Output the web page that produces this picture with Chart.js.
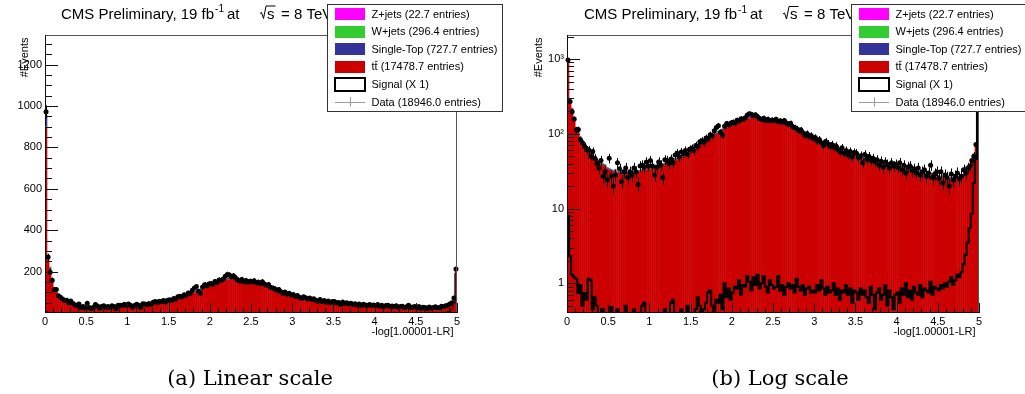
<!DOCTYPE html>
<html>
<head>
<meta charset="utf-8">
<script src="https://cdn.jsdelivr.net/npm/chart.js@4.4.1/dist/chart.umd.min.js"></script>
<style>
  html, body { margin: 0; padding: 0; background: #fff; }
  #wrap { position: relative; width: 1025px; height: 394px; overflow: hidden; background: #fff; }
  canvas { position: absolute; top: 0; }
  .cap { position: absolute; top: 364px; line-height: 28px; font-family: "DejaVu Serif", "Liberation Serif", serif;
         font-size: 21px; color: #000; white-space: nowrap; transform: translateX(-50%); }
</style>
</head>
<body>
<div id="wrap">
  <canvas id="linPanel" width="512" height="394" style="left:0"></canvas>
  <canvas id="logPanel" width="513" height="394" style="left:512px"></canvas>
  <div class="cap" style="left:250px">(a) Linear scale</div>
  <div class="cap" style="left:780px">(b) Log scale</div>
</div>
<script>
// Histogram binning: 200 bins on [0, 5]
const nBins = 200;
const xLow = 0;
const xHigh = 5;

// Stacked backgrounds, per bin
const ttbar = [
  900,255,208,155,118,102,87,78,70,64,
  59,55,52,47,45,42,40,38,37,34,
  33,32,31,32,30,30,29,30,29,29,
  29,30,30,31,31,31,32,33,33,34,
  34,35,35,36,37,37,38,39,40,41,
  42,43,45,45,47,49,50,52,54,57,
  58,61,64,66,70,73,76,80,83,87,
  91,95,100,104,108,112,117,120,124,128,
  131,136,139,143,148,151,154,159,161,163,
  165,163,161,160,156,155,152,150,149,147,
  145,144,141,139,137,134,132,129,125,121,
  117,114,111,106,102,98,95,92,88,85,
  82,80,77,75,73,71,69,67,66,64,
  62,61,60,58,57,55,55,53,52,51,
  50,49,48,47,46,45,44,44,43,42,
  41,41,40,39,39,38,38,37,37,36,
  36,35,35,34,34,33,33,32,32,31,
  31,30,30,29,29,28,29,28,27,27,
  27,26,26,26,25,25,25,25,25,25,
  26,26,27,29,32,36,42,52,70,203
];
const singleTop = [
  55,14,11,7,5,4.3,3.6,3.2,2.9,2.6,
  2.5,2.3,2.1,2.0,1.8,1.7,1.7,1.6,1.5,1.4,
  1.4,1.3,1.3,1.3,1.2,1.2,1.2,1.2,1.2,1.2,
  1.2,1.2,1.2,1.2,1.3,1.3,1.3,1.3,1.4,1.4,
  1.4,1.4,1.5,1.5,1.5,1.5,1.6,1.6,1.7,1.7,
  1.8,1.8,1.8,1.9,2.0,2.0,2.1,2.2,2.3,2.3,
  2.4,2.5,2.6,2.8,2.9,3.0,3.2,3.3,3.5,3.6,
  3.8,4.0,4.1,4.3,4.5,4.7,4.8,5.0,5.2,5.3,
  5.5,5.6,5.8,6.0,6.1,6.3,6.4,6.6,6.7,6.8,
  6.8,6.8,6.7,6.6,6.5,6.4,6.3,6.3,6.2,6.1,
  6.0,6.0,5.9,5.8,5.7,5.6,5.5,5.4,5.2,5.0,
  4.9,4.8,4.6,4.4,4.3,4.1,4.0,3.8,3.7,3.5,
  3.4,3.3,3.2,3.1,3.0,3.0,2.9,2.8,2.7,2.7,
  2.6,2.5,2.5,2.4,2.4,2.3,2.3,2.2,2.2,2.1,
  2.1,2.0,2.0,2.0,1.9,1.9,1.8,1.8,1.8,1.8,
  1.7,1.7,1.7,1.6,1.6,1.6,1.6,1.5,1.5,1.5,
  1.5,1.5,1.5,1.4,1.4,1.4,1.4,1.3,1.3,1.3,
  1.3,1.3,1.3,1.2,1.2,1.2,1.2,1.2,1.1,1.1,
  1.1,1.1,1.1,1.1,1.0,1.0,1.0,1.0,1.0,1.0,
  1.1,1.1,1.1,1.2,1.3,1.5,1.8,2.2,2.9,8.5
];
const wJets = [
  12,6,5,3,2,1.7,1.5,1.3,1.2,1.1,
  1.0,0.9,0.9,0.8,0.7,0.7,0.7,0.6,0.6,0.6,
  0.5,0.5,0.5,0.5,0.5,0.5,0.5,0.5,0.5,0.5,
  0.5,0.5,0.5,0.5,0.5,0.5,0.5,0.5,0.5,0.5,
  0.6,0.6,0.6,0.6,0.6,0.6,0.7,0.7,0.7,0.7,
  0.7,0.7,0.7,0.8,0.8,0.8,0.9,0.9,0.9,0.9,
  1.0,1.0,1.1,1.1,1.2,1.2,1.3,1.3,1.4,1.5,
  1.5,1.6,1.7,1.7,1.8,1.9,1.9,2.0,2.1,2.1,
  2.2,2.3,2.3,2.4,2.5,2.5,2.6,2.6,2.7,2.7,
  2.7,2.7,2.7,2.7,2.6,2.6,2.5,2.5,2.5,2.5,
  2.4,2.4,2.4,2.3,2.3,2.2,2.2,2.2,2.1,2.0,
  2.0,1.9,1.8,1.8,1.7,1.6,1.6,1.5,1.5,1.4,
  1.4,1.3,1.3,1.3,1.2,1.2,1.2,1.1,1.1,1.1,
  1.0,1.0,1.0,1.0,1.0,0.9,0.9,0.9,0.9,0.9,
  0.8,0.8,0.8,0.8,0.8,0.8,0.7,0.7,0.7,0.7,
  0.7,0.7,0.7,0.7,0.6,0.6,0.6,0.6,0.6,0.6,
  0.6,0.6,0.6,0.6,0.6,0.5,0.5,0.5,0.5,0.5,
  0.5,0.5,0.5,0.5,0.5,0.5,0.5,0.5,0.5,0.5,
  0.4,0.4,0.4,0.4,0.4,0.4,0.4,0.4,0.4,0.4,
  0.4,0.4,0.5,0.5,0.5,0.6,0.7,0.9,1.2,3.4
];
const zJets = [
  1.2,0.5,0.4,0.3,0.2,0.2,0.2,0.1,0.1,0.1,
  0.1,0.1,0.1,0.1,0.1,0.1,0.1,0.1,0.1,0.1,
  0.1,0.1,0.1,0.1,0.1,0.1,0.1,0.1,0.1,0.1,
  0.1,0.1,0.1,0.1,0.1,0.1,0.1,0.1,0.1,0.1,
  0.1,0.1,0.1,0.1,0.1,0.1,0.1,0.1,0.1,0.1,
  0.1,0.1,0.1,0.1,0.1,0.1,0.1,0.1,0.1,0.1,
  0.1,0.1,0.1,0.1,0.1,0.1,0.1,0.1,0.1,0.1,
  0.1,0.1,0.1,0.2,0.1,0.1,0.2,0.1,0.2,0.2,
  0.2,0.2,0.2,0.2,0.2,0.2,0.2,0.2,0.2,0.2,
  0.2,0.2,0.2,0.2,0.2,0.2,0.2,0.2,0.2,0.2,
  0.2,0.2,0.2,0.2,0.2,0.2,0.2,0.1,0.2,0.1,
  0.1,0.1,0.1,0.1,0.1,0.1,0.1,0.1,0.1,0.1,
  0.1,0.1,0.1,0.1,0.1,0.1,0.1,0.1,0.1,0.1,
  0.1,0.1,0.1,0.1,0.1,0.1,0.1,0.1,0.1,0.1,
  0.1,0.1,0.1,0.1,0.1,0.1,0.1,0.1,0.1,0.1,
  0.1,0.1,0.1,0.1,0.1,0.1,0.1,0.1,0.1,0.1,
  0.1,0.1,0.1,0.1,0.1,0.1,0.1,0.1,0.1,0.1,
  0.1,0.1,0.1,0.1,0.1,0.1,0.1,0.1,0.1,0.1,
  0.1,0.1,0.1,0.1,0.1,0.1,0.1,0.1,0.1,0.1,
  0.1,0.1,0.1,0.1,0.1,0.1,0.1,0.1,0.1,0.3
];
// Signal template (scale x 1)
const signal = [
  8.0,2.3,1.3,1.2,1.15,0.74,0.95,0.5,0.74,0.6,
  1.15,1.1,0.45,0.65,0.5,0.3,0.2,0.45,0.3,0.25,
  0.3,0.48,0.2,0.3,0.45,0.25,0.2,0.3,0.5,0.2,
  0.3,0.3,0.45,0.2,0.25,0.3,0.5,0.55,0.3,0.2,
  0.3,0.2,0.4,0.25,0.3,0.2,0.3,0.45,0.25,0.3,
  0.55,0.6,0.3,0.2,0.3,0.45,0.3,0.25,0.5,0.3,
  0.4,0.3,0.45,0.65,0.5,0.3,0.45,0.55,0.75,0.8,
  0.5,0.35,0.6,0.55,0.7,0.45,1.0,0.65,0.85,0.6,
  0.75,0.9,0.85,1.1,0.7,0.95,0.9,1.25,1.05,0.8,
  1.2,0.95,1.3,0.85,1.0,1.25,0.9,0.75,1.1,0.95,
  0.85,0.9,1.25,0.8,0.95,0.7,0.9,1.0,0.85,0.95,
  0.75,1.15,0.9,0.8,0.95,0.7,0.85,0.9,0.75,0.8,
  0.75,0.95,0.8,1.1,0.85,0.7,0.9,0.75,0.8,1.0,
  0.7,0.85,0.6,0.8,0.75,0.95,0.7,0.85,0.55,0.8,
  0.75,0.6,0.85,0.7,0.8,0.65,0.55,0.9,0.7,0.45,
  0.75,0.85,0.6,0.7,0.95,0.5,0.8,0.65,0.45,0.7,
  0.75,0.55,0.85,0.7,1.0,0.65,0.8,0.6,0.9,0.75,
  0.7,0.95,0.65,0.85,0.8,0.75,1.05,0.7,0.9,0.85,
  0.8,0.95,0.85,1.0,0.9,1.05,1.2,0.95,1.1,1.3,
  1.2,1.4,1.8,2.4,3.5,5.5,8.5,22,46,190
];
// Observed events, per bin
const dataCounts = [
  972,270,197,158,112,114,83,76,68,61,
  61,50,58,47,40,35,44,27,31,24,
  47,27,20,28,41,34,23,31,35,26,
  31,28,35,31,21,37,38,36,42,37,
  44,37,28,36,42,38,26,45,44,40,
  46,41,52,55,49,57,54,60,53,62,
  64,60,70,68,78,81,77,88,86,97,
  94,110,121,128,105,96,126,137,132,140,
  143,138,152,148,159,157,164,178,186,183,
  175,180,169,160,155,162,151,157,149,153,
  151,156,146,149,143,151,140,134,138,124,
  121,117,110,113,103,96,101,92,95,87,
  89,80,84,76,70,79,74,68,72,66,
  69,62,57,65,55,60,52,58,49,56,
  55,48,51,41,53,46,50,44,47,42,
  45,38,43,36,42,39,35,41,37,39,
  36,41,33,38,30,36,37,32,34,30,
  35,28,31,33,27,30,38,26,29,31,
  25,31,22,28,26,20,29,24,27,30,
  25,27,33,30,35,37,44,50,72,213
];

// Axis tick labels
const xTickLabels = ['0','0.5','1','1.5','2','2.5','3','3.5','4','4.5','5'];
const linYMajor = [200, 400, 600, 800, 1000, 1200];
const linYLabels = ['200','400','600','800','1000','1200'];
const logYMajor = [1, 10, 100, 1000];
const logYLabels = ['1', '10', '10\u00b2', '10\u00b3'];

// Legend and title texts
const legendTexts = ['Z+jets (22.7 entries)', 'W+jets (296.4 entries)', 'Single-Top (727.7 entries)',
                     ' (17478.7 entries)', 'Signal (X 1)', 'Data (18946.0 entries)'];
const titleText = ['CMS Preliminary, 19 fb', '-1', 'at', 's', '= 8 TeV'];
const xTitle = '-log[1.00001-LR]';
const yTitle = '#Events';

const colors = { z: '#ff00ff', w: '#33cc33', st: '#333399', tt: '#cc0000' };
const FONT = '"Liberation Sans", Arial, Helvetica, sans-serif';

const binLabels = [];
for (let i = 0; i < nBins; i++) binLabels.push(((i + 0.5) * (xHigh - xLow) / nBins + xLow).toFixed(4));

// tick positions along x: every 0.1, labelled every 0.5
const xTickVals = [];
for (let k = 0; k <= 50; k++) xTickVals.push(k / 10);

function linYTickVals() {
  const t = [];
  for (let v = 50; v <= 1300; v += 50) t.push(v);
  return t;
}
function logYTickVals() {
  const t = [0.4, 0.5, 0.6, 0.7, 0.8, 0.9];
  [1, 10, 100, 1000].forEach(d => { for (let m = 1; m <= 9; m++) if (m * d <= 2100) t.push(m * d); });
  return t;
}

function drawTitle(ctx, x0, y) {
  ctx.save();
  ctx.fillStyle = '#000';
  ctx.strokeStyle = '#000';
  ctx.textAlign = 'left';
  ctx.textBaseline = 'alphabetic';
  ctx.font = '15px ' + FONT;
  ctx.fillText(titleText[0], x0, y);
  const w0 = ctx.measureText(titleText[0]).width;
  ctx.font = '10px ' + FONT;
  ctx.fillText(titleText[1], x0 + w0 + 1, y - 6.5);
  ctx.font = '15px ' + FONT;
  ctx.fillText(titleText[2], x0 + 166, y);
  // square-root sign with bar over the argument
  const rx = x0 + 199;
  const sw = ctx.measureText(titleText[3]).width;
  ctx.lineWidth = 1;
  ctx.beginPath();
  ctx.moveTo(rx, y - 5);
  ctx.lineTo(rx + 1.5, y - 6);
  ctx.lineTo(rx + 3.5, y);
  ctx.lineTo(rx + 6, y - 12.5);
  ctx.lineTo(rx + 8 + sw, y - 12.5);
  ctx.stroke();
  ctx.fillText(titleText[3], rx + 7, y);
  ctx.fillText(titleText[4], x0 + 220, y);
  ctx.restore();
}

function drawLegend(ctx, bx, by) {
  const bw = 175, bh = 107;
  ctx.save();
  ctx.fillStyle = '#fff';
  ctx.fillRect(bx, by, bw, bh);
  ctx.strokeStyle = '#333';
  ctx.lineWidth = 1;
  ctx.strokeRect(bx + 0.5, by + 0.5, bw, bh);
  const sx = bx + 8, swW = 30, tx = bx + 44.5;
  const rowY = k => by + 10 + 17.6 * k;
  const fills = [colors.z, colors.w, colors.st, colors.tt];
  ctx.font = '11px ' + FONT;
  ctx.textBaseline = 'middle';
  ctx.textAlign = 'left';
  fills.forEach((c, k) => {
    ctx.fillStyle = c;
    ctx.fillRect(sx, Math.round(rowY(k) - 6), swW, 12);
  });
  ctx.fillStyle = '#000';
  [0, 1, 2].forEach(k => ctx.fillText(legendTexts[k], tx, rowY(k) + 0.5));
  // t tbar label
  const tw = ctx.measureText('t').width;
  ctx.fillText('tt', tx, rowY(3) + 0.5);
  ctx.beginPath();
  ctx.moveTo(tx + tw + 0.3, rowY(3) - 5.5);
  ctx.lineTo(tx + 2 * tw, rowY(3) - 5.5);
  ctx.stroke();
  ctx.fillText(legendTexts[3], tx + 2 * tw, rowY(3) + 0.5);
  // signal: open box
  ctx.strokeStyle = '#000';
  ctx.lineWidth = 2;
  ctx.strokeRect(sx, Math.round(rowY(4) - 6), swW, 13);
  ctx.fillText(legendTexts[4], tx, rowY(4) + 0.5);
  // data: line with error bar
  ctx.strokeStyle = '#9a9a9a';
  ctx.lineWidth = 1;
  ctx.beginPath();
  ctx.moveTo(sx, Math.round(rowY(5)) + 0.5);
  ctx.lineTo(sx + swW, Math.round(rowY(5)) + 0.5);
  ctx.moveTo(sx + swW / 2 + 0.5, rowY(5) - 4.5);
  ctx.lineTo(sx + swW / 2 + 0.5, rowY(5) + 4.5);
  ctx.stroke();
  ctx.fillText(legendTexts[5], tx, rowY(5) + 0.5);
  ctx.restore();
}

function decorPlugin(p) {
  return {
    id: 'rootDecor',
    afterDatasetsDraw(chart) {
      const { ctx, chartArea: a, scales } = chart;
      const ys = scales.y, xt = scales.xt;
      // statistical error bars on data
      const meta = chart.getDatasetMeta(0);
      ctx.save();
      ctx.beginPath();
      ctx.rect(a.left, a.top, a.right - a.left, a.bottom - a.top);
      ctx.clip();
      ctx.strokeStyle = '#000';
      ctx.lineWidth = 1;
      ctx.beginPath();
      dataCounts.forEach((n, i) => {
        const e = Math.sqrt(n);
        const lo = Math.max(n - e, ys.min);
        const px = Math.round(meta.data[i].x) + 0.5;
        ctx.moveTo(px, ys.getPixelForValue(n + e));
        ctx.lineTo(px, ys.getPixelForValue(lo));
      });
      ctx.stroke();
      ctx.restore();

      // frame
      ctx.save();
      ctx.lineWidth = 1;
      ctx.strokeStyle = '#555';
      ctx.beginPath();
      ctx.moveTo(a.left, a.top + 0.5);
      ctx.lineTo(a.right - 0.5, a.top + 0.5);
      ctx.lineTo(a.right - 0.5, a.bottom);
      ctx.stroke();
      ctx.strokeStyle = '#111';
      ctx.beginPath();
      ctx.moveTo(a.left + 0.5, a.top);
      ctx.lineTo(a.left + 0.5, a.bottom - 0.5);
      ctx.lineTo(a.right, a.bottom - 0.5);
      ctx.stroke();

      // inward tick marks
      ctx.beginPath();
      ys.ticks.forEach(t => {
        const major = p.isMajorY(t.value);
        const py = Math.round(ys.getPixelForValue(t.value)) + 0.5;
        if (py < a.top || py > a.bottom) return;
        ctx.moveTo(a.left, py);
        ctx.lineTo(a.left + (major ? 13 : 7), py);
      });
      xt.ticks.forEach(t => {
        const major = Math.abs(t.value * 2 - Math.round(t.value * 2)) < 1e-6;
        const px = Math.round(xt.getPixelForValue(t.value)) + 0.5;
        ctx.moveTo(px, a.bottom);
        ctx.lineTo(px, a.bottom - (major ? 10 : 5));
      });
      ctx.stroke();
      ctx.restore();
    },
    afterDraw(chart) {
      const { ctx, chartArea: a } = chart;
      drawTitle(ctx, p.titleX, p.titleY);
      ctx.save();
      ctx.fillStyle = '#000';
      ctx.font = '11px ' + FONT;
      ctx.textAlign = 'right';
      ctx.textBaseline = 'alphabetic';
      ctx.fillText(xTitle, a.right - 3.5, 335);
      ctx.translate(p.yTitleX, a.top + 2.5);
      ctx.rotate(-Math.PI / 2);
      ctx.fillText(yTitle, 0, 0);
      ctx.restore();
      drawLegend(ctx, p.legendX, 4);
    }
  };
}

function makePanel(id, p) {
  const tickFont = { family: FONT, size: 11 };
  const datasets = [
    { type: 'line', label: 'Data', data: dataCounts, stack: 'data', showLine: false,
      pointRadius: 2.5, pointHoverRadius: 2.5, pointBackgroundColor: '#000', pointBorderWidth: 0,
      xAxisID: 'x', yAxisID: 'y' },
    { type: 'line', label: 'Signal', data: signal, stack: 'signal', stepped: 'middle',
      borderColor: '#000', borderWidth: p.log ? 2 : 1, pointRadius: 0, fill: false,
      xAxisID: 'x', yAxisID: 'y' },
    { type: 'bar', label: 'ttbar', data: ttbar, stack: 'mc', backgroundColor: colors.tt, xAxisID: 'x', yAxisID: 'y' },
    { type: 'bar', label: 'Single-Top', data: singleTop, stack: 'mc', backgroundColor: colors.st, xAxisID: 'x', yAxisID: 'y' },
    { type: 'bar', label: 'W+jets', data: wJets, stack: 'mc', backgroundColor: colors.w, xAxisID: 'x', yAxisID: 'y' },
    { type: 'bar', label: 'Z+jets', data: zJets, stack: 'mc', backgroundColor: colors.z, xAxisID: 'x', yAxisID: 'y' }
  ];
  // neighbouring bins overlap slightly so no hairline seams show between them
  datasets.slice(2).forEach(d => { d.barPercentage = 1.25; d.categoryPercentage = 1; d.borderWidth = 0; });

  const yScale = p.log ? {
    type: 'logarithmic', min: 0.4, max: 2100, stacked: true,
    afterBuildTicks: s => { s.ticks = logYTickVals().map(v => ({ value: v })); },
    ticks: { autoSkip: false, padding: 3, color: '#000', font: tickFont,
      callback: v => { const k = logYMajor.indexOf(v); return k >= 0 ? logYLabels[k] : ''; } }
  } : {
    type: 'linear', min: 0, max: 1343, stacked: true,
    afterBuildTicks: s => { s.ticks = linYTickVals().map(v => ({ value: v })); },
    ticks: { autoSkip: false, padding: 3, color: '#000', font: tickFont,
      callback: v => { const k = linYMajor.indexOf(v); return k >= 0 ? linYLabels[k] : ''; } }
  };
  Object.assign(yScale, {
    position: 'left',
    grid: { display: false, drawTicks: false },
    border: { display: false },
    afterFit: s => { s.width = p.axisW; }
  });

  return new Chart(document.getElementById(id), {
    data: { labels: binLabels, datasets },
    options: {
      responsive: false,
      maintainAspectRatio: false,
      devicePixelRatio: 1,
      animation: false,
      events: [],
      layout: { padding: { left: 0, right: p.padR, top: 35, bottom: 0 } },
      plugins: { legend: { display: false }, tooltip: { enabled: false }, title: { display: false } },
      scales: {
        x: { type: 'category', display: false, stacked: true, offset: true,
             grid: { display: false }, border: { display: false } },
        xt: { type: 'linear', axis: 'x', position: 'bottom', min: xLow, max: xHigh,
              afterBuildTicks: s => { s.ticks = xTickVals.map(v => ({ value: v })); },
              afterFit: s => { s.height = 394 - 313; },
              grid: { display: false, drawTicks: false }, border: { display: false },
              ticks: { autoSkip: false, maxRotation: 0, padding: 2, color: '#000', font: tickFont,
                callback: v => { const k = Math.round(v * 2); return Math.abs(v * 2 - k) < 1e-6 ? xTickLabels[k] : ''; } } },
        y: yScale
      }
    },
    plugins: [decorPlugin(p)]
  });
}

makePanel('linPanel', {
  log: false, axisW: 45, padR: 55, titleX: 61, titleY: 18.5, yTitleX: 28, legendX: 327,
  isMajorY: v => v % 200 === 0
});
makePanel('logPanel', {
  log: true, axisW: 55, padR: 46, titleX: 72, titleY: 19, yTitleX: 30, legendX: 339,
  isMajorY: v => logYMajor.indexOf(v) >= 0
});
</script>
</body>
</html>
